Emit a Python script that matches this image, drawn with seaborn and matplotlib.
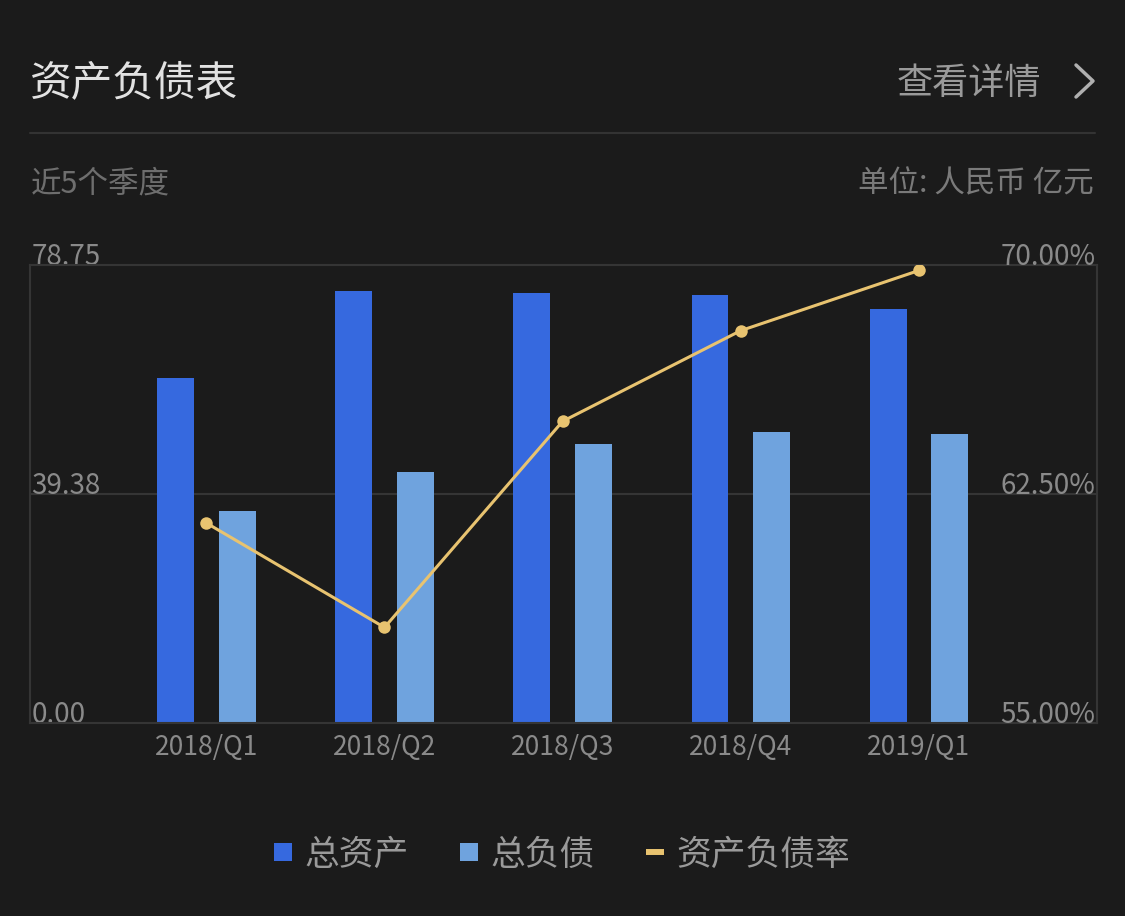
import numpy as np
import pandas as pd
import matplotlib
matplotlib.use("Agg")
import matplotlib.pyplot as plt
from matplotlib.lines import Line2D
import seaborn as sns

# ---- data ----
quarters = ["2018/Q1", "2018/Q2", "2018/Q3", "2018/Q4", "2019/Q1"]
total_assets = [59.3, 74.3, 73.9, 73.6, 71.2]
total_liabilities = [36.5, 43.2, 48.0, 50.0, 49.7]
debt_ratio = [61.55, 58.13, 64.88, 67.85, 69.82]
left_ticks = [0.0, 39.375, 78.75]
left_tick_labels = ["0.00", "39.38", "78.75"]
right_ticks = [55.0, 62.5, 70.0]
right_tick_labels = ["55.00%", "62.50%", "70.00%"]
series_names = ["总资产", "总负债", "资产负债率"]

BG = "#1b1b1b"
C_ASSET = "#3669df"
C_LIAB = "#6fa3de"
C_LINE = "#e8c370"
GRID = "#353535"
TICK = "#8a8a8a"

sns.set_theme(style="dark")
plt.rcParams["font.family"] = ["Noto Sans CJK SC", "DejaVu Sans"]

df = pd.DataFrame({
    "quarter": quarters * 2,
    "value": total_assets + total_liabilities,
    "series": [series_names[0]] * len(quarters) + [series_names[1]] * len(quarters),
})

fig = plt.figure(figsize=(11.25, 9.16), dpi=100, facecolor=BG)
ax = fig.add_axes([30 / 1125, 1 - 723 / 916, (1097 - 30) / 1125, (723 - 265) / 916])
ax.set_facecolor(BG)

sns.barplot(data=df, x="quarter", y="value", hue="series",
            palette=[C_ASSET, C_LIAB], width=0.69, gap=0.4,
            saturation=1, legend=False, ax=ax, errorbar=None, linewidth=0)

ax.set_xlim(-0.99, 5.0)
ax.set_ylim(0, 78.75)
ax.set_xlabel("")
ax.set_ylabel("")
ax.set_yticks(left_ticks)
ax.set_yticklabels(left_tick_labels)
ax.tick_params(axis="y", length=0, pad=-1, labelsize=20, labelcolor=TICK)
for lab in ax.get_yticklabels():
    lab.set_ha("left")
    lab.set_va("baseline")
ax.tick_params(axis="x", length=0, pad=8, labelsize=19, labelcolor=TICK)
ax.grid(False)
ax.axhline(39.375, color=GRID, lw=1.5, zorder=0)
for s in ax.spines.values():
    s.set_visible(True)
    s.set_color(GRID)
    s.set_linewidth(1.5)

ax2 = ax.twinx()
sns.lineplot(x=np.arange(len(quarters)), y=debt_ratio, ax=ax2, color=C_LINE,
             lw=2.2, marker="o", markersize=9, markeredgewidth=0)
ax2.set_ylim(55, 70)
ax2.set_yticks(right_ticks)
ax2.set_yticklabels(right_tick_labels)
ax2.tick_params(axis="y", length=0, pad=-1, labelsize=20, labelcolor=TICK)
for lab in ax2.get_yticklabels():
    lab.set_ha("right")
    lab.set_va("baseline")
ax2.grid(False)
for s in ax2.spines.values():
    s.set_visible(False)

# ---- header ----
fig.text(30 / 1125, 1 - 84 / 916, "资产负债表", fontsize=30, color="#e2e2e2",
         ha="left", va="center")
fig.text(1041 / 1125, 1 - 84 / 916, "查看详情", fontsize=26, color="#9a9a9a",
         ha="right", va="center")
fig.add_artist(Line2D([1076 / 1125, 1093 / 1125, 1076 / 1125],
                      [1 - 65 / 916, 1 - 81 / 916, 1 - 97 / 916],
                      color="#b0b0b0", lw=2.5, transform=fig.transFigure))
fig.add_artist(Line2D([30 / 1125, 1095 / 1125], [1 - 133 / 916, 1 - 133 / 916],
                      color="#333333", lw=1.5, transform=fig.transFigure))
fig.text(31 / 1125, 1 - 184 / 916, "近5个季度", fontsize=22, color="#6e6e6e",
         ha="left", va="center")
fig.text(1094 / 1125, 1 - 184 / 916, "单位: 人民币 亿元", fontsize=22, color="#7a7a7a",
         ha="right", va="center")

# ---- legend ----
handles = [
    Line2D([], [], ls="none", marker="s", markersize=13, markerfacecolor=C_ASSET, markeredgewidth=0),
    Line2D([], [], ls="none", marker="s", markersize=13, markerfacecolor=C_LIAB, markeredgewidth=0),
    Line2D([], [], ls="none", marker="_", markersize=13, markeredgewidth=4.3, color=C_LINE),
]
leg = fig.legend(handles, series_names, loc="center", bbox_to_anchor=(562 / 1125, 1 - 855 / 916),
                 ncol=3, frameon=False, fontsize=25, labelcolor="#9a9a9a",
                 handlelength=0.52, handletextpad=0.37, columnspacing=1.47)

fig.savefig("out.png", dpi=100, facecolor=BG)
